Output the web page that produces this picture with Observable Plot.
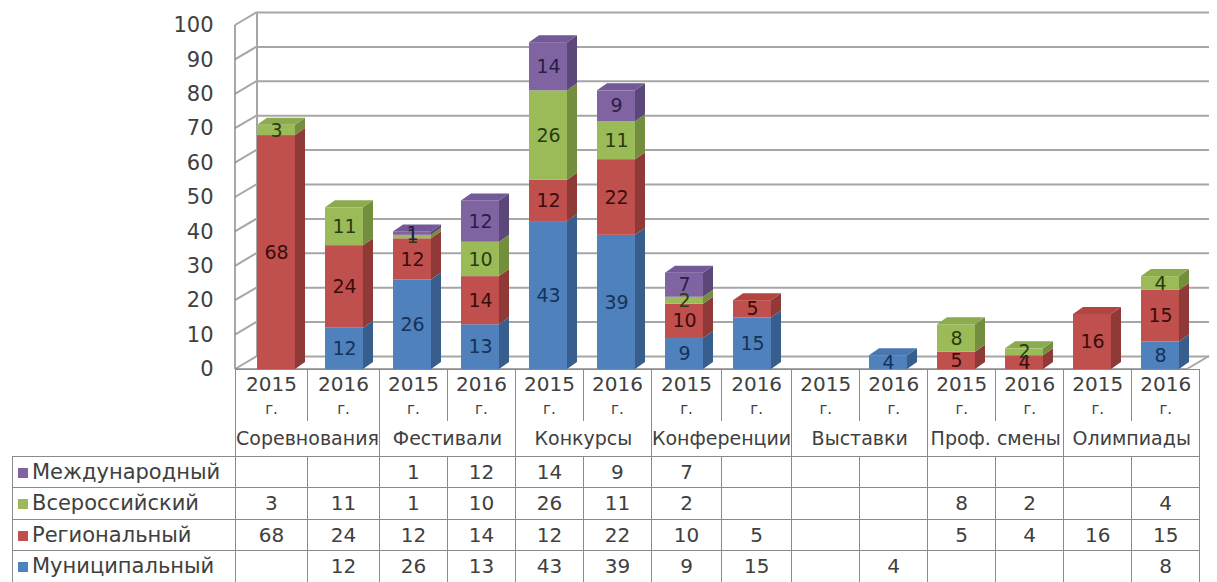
<!DOCTYPE html>
<html><head><meta charset="utf-8">
<script src="https://cdn.jsdelivr.net/npm/d3@7"></script>
<script src="https://cdn.jsdelivr.net/npm/@observablehq/plot@0.6"></script>
<style>
body{margin:0;background:#fff;}
#wrap{position:relative;width:1217px;height:582px;overflow:hidden;font-family:"DejaVu Sans",sans-serif;background:#fff;}
#wrap svg{position:absolute;left:0;top:0;}
#tbl{position:absolute;border-collapse:collapse;table-layout:fixed;font-size:20px;color:#404040;}
#tbl td{border:1px solid #8a8a8a;padding:0;text-align:center;white-space:nowrap;overflow:visible;}
#tbl td.blank{border:none;}
#tbl tr.yr td{border-bottom:none;line-height:23px;vertical-align:top;padding-top:3px;}
#tbl tr.ct td{border-top:none;font-size:19px;}
#tbl td.nm{text-align:left;padding-left:5px;font-size:21px;}
.sw{display:inline-block;width:10px;height:10px;margin-right:4px;vertical-align:1px;}
</style></head><body><div id="wrap"></div>
<script>
// ---- data ----
const categories = ["Соревнования","Фестивали","Конкурсы","Конференции","Выставки","Проф. смены","Олимпиады"];
const years = ["2015 г.","2016 г."];
const seriesNames = ["Муниципальный","Региональный","Всероссийский","Международный"]; // bottom -> top
const municipal     = [null,12,26,13,43,39,9,15,null,4,null,null,null,8];
const regional      = [68,24,12,14,12,22,10,5,null,null,5,4,16,15];
const allRussian    = [3,11,1,10,26,11,2,null,null,null,8,2,null,4];
const international = [null,null,1,12,14,9,7,null,null,null,null,null,null,null];
const yTicks = [0,10,20,30,40,50,60,70,80,90,100];

const frontColors = ["#4F81BD","#C0504D","#9BBB59","#8064A2"];
const sideColors  = ["#385E8E","#8F3A37","#738E3F","#5C4779"];
const topColors   = ["#4977AE","#B2463F","#8CAB4E","#735997"];
const labelColors = ["#14325a","#3c0c0b","#2a3d10","#2b1c48"];

const seriesValues = [municipal, regional, allRussian, international];
const keys = [];
categories.forEach(c => years.forEach(y => keys.push(c + " " + y)));

const rows = [];
keys.forEach((k, i) => {
  let acc = 0;
  const colRows = [];
  seriesValues.forEach((vals, s) => {
    const v = vals[i];
    if (v == null) return;
    const r = {key: k, series: seriesNames[s], si: s, value: v, y1: acc, y2: acc + v, top: false};
    acc += v;
    colRows.push(r);
  });
  if (colRows.length) colRows[colRows.length - 1].top = true;
  rows.push(...colRows);
});

// ---- geometry ----
const W = 1217, H = 382;
const mL = 235, mR = 30, mT = 25, mB = 13;
const insetL = 22, insetR = 8;
const DX = 10, DY = 7;       // bar depth
const WX = 22, WY = 13;      // wall depth

function frame3d(index, scales, values, dims) {
  const {y} = scales;
  const x0 = dims.marginLeft, x1 = dims.width - dims.marginRight;
  const g = d3.create("svg:g").attr("fill", "none").attr("stroke", "#a6a6a6").attr("stroke-width", 2);
  for (const t of yTicks) {
    g.append("line").attr("x1", x0).attr("y1", y(t)).attr("x2", x0 + WX).attr("y2", y(t) - WY);
  }
  g.append("line").attr("x1", x0 + WX).attr("y1", y(0) - WY).attr("x2", x0 + WX).attr("y2", y(100) - WY);
  g.append("line").attr("x1", x1).attr("y1", y(0)).attr("x2", x1 + WX).attr("y2", y(0) - WY);
  g.append("line").attr("x1", x0).attr("y1", y(0)).attr("x2", x1).attr("y2", y(0)).attr("stroke", "#8a8a8a").attr("stroke-width", 1.5);
  g.append("line").attr("x1", x0).attr("y1", y(0)).attr("x2", x0).attr("y2", y(100)).attr("stroke", "#8a8a8a").attr("stroke-width", 1.5);
  return g.node();
}

function faces3d(index, scales, values, dims) {
  const {x, y} = scales;
  const g = d3.create("svg:g");
  for (const r of rows) {
    const xl = x(r.key) + insetL, xr = x(r.key) + x.bandwidth() - insetR;
    const ya = y(r.y1), yb = y(r.y2);
    g.append("polygon")
      .attr("points", [[xr, ya], [xr, yb], [xr + DX, yb - DY], [xr + DX, ya - DY]].join(" "))
      .attr("fill", sideColors[r.si]);
    if (r.top) {
      g.append("polygon")
        .attr("points", [[xl, yb], [xr, yb], [xr + DX, yb - DY], [xl + DX, yb - DY]].join(" "))
        .attr("fill", topColors[r.si]);
    }
  }
  return g.node();
}

const chart = Plot.plot({
  width: W, height: H,
  marginLeft: mL, marginRight: mR, marginTop: mT, marginBottom: mB,
  style: {fontFamily: "DejaVu Sans, sans-serif", background: "transparent"},
  x: {domain: keys, padding: 0, axis: null},
  y: {domain: [0, 100], axis: null},
  color: {domain: seriesNames, range: frontColors},
  marks: [
    Plot.ruleY(yTicks, {dx: WX, dy: -WY, stroke: "#a6a6a6", strokeWidth: 2}),
    frame3d,
    Plot.axisY({ticks: yTicks, tickSize: 0, tickPadding: 22, fontSize: 21, fill: "#404040"}),
    Plot.barY(rows, {x: "key", y1: "y1", y2: "y2", fill: "series", insetLeft: insetL, insetRight: insetR}),
    faces3d,
    Plot.text(rows, {x: "key", y: d => (d.y1 + d.y2) / 2, text: "value", dx: (insetL - insetR) / 2,
      fill: d => labelColors[d.si], fontSize: 19})
  ]
});

const wrap = document.getElementById("wrap");

// ---- data table (aligned to the x scale) ----
const xs = chart.scale("x");
const step = xs.step;
const left0 = 12;
const tbl = document.createElement("table");
tbl.id = "tbl";
tbl.style.left = left0 + "px";
tbl.style.top = (H - mB) + "px";
const cg = document.createElement("colgroup");
const c0 = document.createElement("col"); c0.style.width = (mL - left0) + "px"; cg.appendChild(c0);
keys.forEach(() => { const c = document.createElement("col"); c.style.width = step + "px"; cg.appendChild(c); });
tbl.appendChild(cg);

let tr = document.createElement("tr"); tr.className = "yr"; tr.style.height = "50px";
let td = document.createElement("td"); td.className = "blank"; tr.appendChild(td);
categories.forEach(() => years.forEach(y => {
  const [n, s] = y.split(" ");
  const c = document.createElement("td");
  c.innerHTML = n + "<br><span style='font-size:15px'>" + s + "</span>";
  tr.appendChild(c);
}));
tbl.appendChild(tr);

tr = document.createElement("tr"); tr.className = "ct"; tr.style.height = "35px";
td = document.createElement("td"); td.className = "blank"; tr.appendChild(td);
categories.forEach(c => {
  const cell = document.createElement("td");
  cell.colSpan = 2; cell.textContent = c;
  tr.appendChild(cell);
});
tbl.appendChild(tr);

for (let s = seriesNames.length - 1; s >= 0; s--) {
  tr = document.createElement("tr"); tr.style.height = "31.5px";
  td = document.createElement("td"); td.className = "nm";
  td.innerHTML = "<span class='sw' style='background:" + frontColors[s] + "'></span>" + seriesNames[s];
  tr.appendChild(td);
  seriesValues[s].forEach(v => {
    const c = document.createElement("td");
    c.textContent = v == null ? "" : v;
    tr.appendChild(c);
  });
  tbl.appendChild(tr);
}
wrap.appendChild(tbl);
wrap.appendChild(chart);
</script>
</body></html>
